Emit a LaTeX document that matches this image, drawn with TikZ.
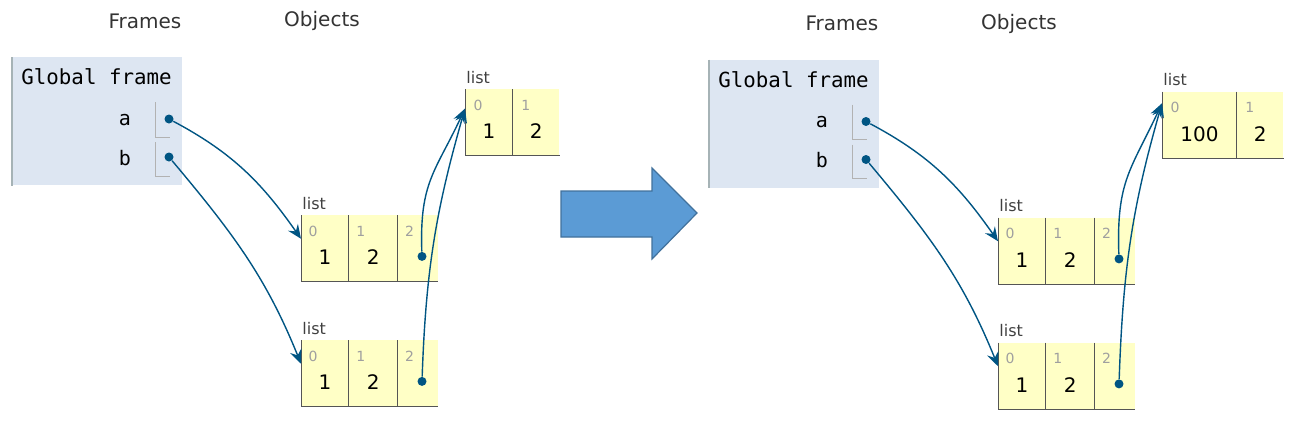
\documentclass[tikz,border=0pt]{standalone}
\usepackage{fontspec}
\setsansfont{DejaVu Sans}
\setmonofont{DejaVu Sans Mono}
\usetikzlibrary{arrows.meta}

\definecolor{frameblue}{HTML}{DDE6F2}
\definecolor{frameedge}{HTML}{A6B3B6}
\definecolor{cellyellow}{HTML}{FFFFC6}
\definecolor{celledge}{HTML}{555555}
\definecolor{ptrblue}{HTML}{005583}
\definecolor{hdrgray}{HTML}{333333}
\definecolor{arrowfill}{HTML}{5B9BD5}
\definecolor{arrowedge}{HTML}{41719C}

\tikzset{
  hdr/.style={font=\sffamily\fontsize{10}{12}\selectfont, text=hdrgray},
  frm/.style={fill=frameblue, minimum width=85pt, minimum height=64pt, inner sep=0, anchor=north west},
  var/.style={font=\ttfamily\fontsize{10}{12}\selectfont, anchor=east},
  brk/.style={draw=gray!60, line width=0.5pt},
  cell/.style={fill=cellyellow, minimum height=33pt, inner sep=0, anchor=north west},
  cellline/.style={draw=celledge, line width=0.5pt},
  tag/.style={font=\sffamily\fontsize{8}{9}\selectfont, text=black!75, anchor=base west, inner sep=0.5pt},
  idx/.style={font=\sffamily\fontsize{7}{8}\selectfont, text=gray!75, inner sep=0},
  val/.style={font=\sffamily\fontsize{10}{12}\selectfont, inner sep=0},
  ptr/.style={circle, fill=ptrblue, inner sep=0, minimum size=4.5pt},
  ref/.style={draw=ptrblue, line width=0.7pt, -{Stealth[length=7pt,width=6pt,inset=2.5pt]}}
}

% one state of the memory: #1 first value of the inner list, #2 width of its cell
\newcommand\heapstate[2]{
  \node[hdr] (fr) at (145,-21) {Frames};
  \node[hdr] (ob) at (322,-21) {Objects};

  \node[frm] (gf) at (12,-57) {};
  \draw[draw=frameedge, line width=0.6pt] (gf.north west) -- (gf.south west);
  \node[anchor=west, font=\ttfamily\fontsize{10.4}{12}\selectfont, inner sep=0] (gft) at (21,-77) {Global frame};
  \node[var] (va) at (138,-120) {a};
  \node[var] (vb) at (138,-158) {b};
  \draw[brk] (155,-102) |- (170,-137);
  \draw[brk] (155,-142) |- (170,-176);
  \node[ptr] (pa) at (169,-119) {};
  \node[ptr] (pb) at (169,-157) {};

  % inner list
  \node[cell, minimum width=#2] (t0) at (465,-89) {};
  \node[cell, minimum width=23pt] (t1) at (t0.north east) {};
  \draw[cellline] (t0.north west) -- (t0.south west) -- (t1.south east);
  \draw[cellline] (t1.north west) -- (t1.south west);
  \node[tag] (t-lst) at ([yshift=3pt]t0.north west) {list};
  \node[idx] (t0i) at ([shift={(6.5pt,-8pt)}]t0.north west) {0};
  \node[idx] (t1i) at ([shift={(6.5pt,-8pt)}]t1.north west) {1};
  \node[val] (t0v) at ([yshift=-4.5pt]t0.center) {#1};
  \node[val] (t1v) at ([yshift=-4.5pt]t1.center) {2};

  % the two outer lists
  \foreach \l/\y in {m/215,n/340}{
    \node[cell, minimum width=23.5pt] (\l0) at (301,-\y) {};
    \node[cell, minimum width=24pt] (\l1) at (\l0.north east) {};
    \node[cell, minimum width=20pt] (\l2) at (\l1.north east) {};
    \draw[cellline] (\l0.north west) -- (\l0.south west) -- (\l2.south east);
    \draw[cellline] (\l1.north west) -- (\l1.south west);
    \draw[cellline] (\l2.north west) -- (\l2.south west);
    \node[tag] (\l-lst) at ([yshift=3pt]\l0.north west) {list};
    \foreach \i in {0,1,2}
      \node[idx] (\l\i i) at ([shift={(6pt,-8pt)}]\l\i.north west) {\i};
    \node[val] (\l0v) at ([yshift=-4.5pt]\l0.center) {1};
    \node[val] (\l1v) at ([yshift=-4.5pt]\l1.center) {2};
    \node[ptr] (\l-ptr) at ([shift={(2pt,-4pt)}]\l2.center) {};
  }

  \draw[ref] (pa) to[out=-28,in=125] (m0.158);
  \draw[ref] (pb) to[out=-50,in=112] (n0.158);
  \draw[ref] (m-ptr) to[out=92,in=-115,looseness=1.2] (t0.150);
  \draw[ref] (n-ptr) to[out=88,in=-106] (t0.150);
}

\begin{document}
\begin{tikzpicture}[x=0.5pt, y=0.5pt]
\useasboundingbox (0,0) rectangle (1294,-424);

\begin{scope}[name prefix=L-]
  \heapstate{1}{23.5pt}
\end{scope}

% block arrow between the two states
\draw[fill=arrowfill, draw=arrowedge, line width=0.6pt]
  (561,-191) -- (652,-191) -- (652,-168) -- (697,-213) -- (652,-259) -- (652,-237) -- (561,-237) -- cycle;

\begin{scope}[shift={(697,-2.5)}, name prefix=R-]
  \heapstate{100}{37pt}
\end{scope}

\end{tikzpicture}
\end{document}
